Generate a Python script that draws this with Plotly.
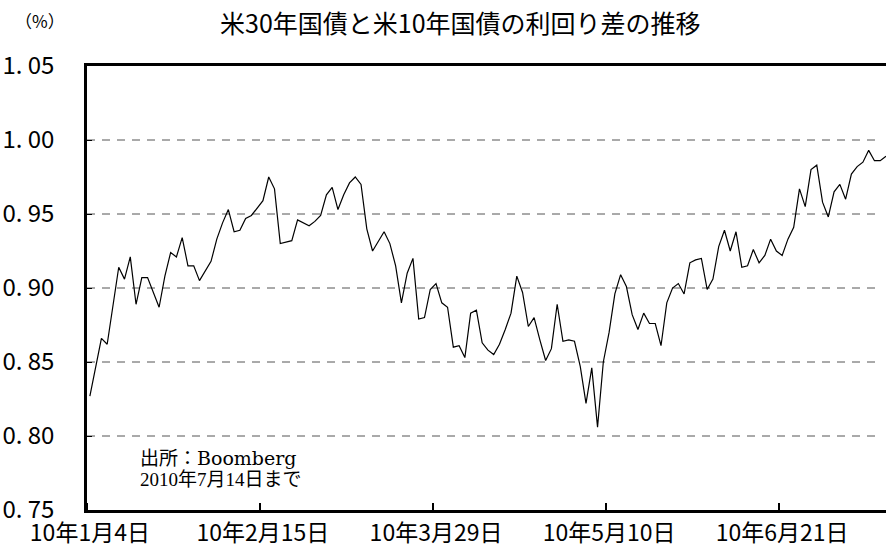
import pandas as pd
import plotly.graph_objects as go

# ---- data ----
spread = [
    0.827, 0.846, 0.866, 0.862, 0.887, 0.914, 0.906, 0.921, 0.889, 0.907,
    0.907, 0.897, 0.887, 0.908, 0.924, 0.921, 0.934, 0.915, 0.915, 0.905,
    0.912, 0.918, 0.933, 0.944, 0.953, 0.938, 0.939, 0.947, 0.949, 0.954,
    0.959, 0.975, 0.967, 0.930, 0.931, 0.932, 0.946, 0.944, 0.942, 0.945,
    0.949, 0.963, 0.968, 0.953, 0.963, 0.971, 0.975, 0.970, 0.940, 0.925,
    0.932, 0.938, 0.930, 0.915, 0.890, 0.910, 0.920, 0.879, 0.880, 0.899,
    0.903, 0.890, 0.887, 0.860, 0.861, 0.853, 0.883, 0.885, 0.863, 0.858,
    0.855, 0.862, 0.872, 0.883, 0.908, 0.897, 0.874, 0.880, 0.865, 0.851,
    0.859, 0.889, 0.864, 0.865, 0.864, 0.847, 0.822, 0.846, 0.806, 0.850,
    0.870, 0.896, 0.909, 0.901, 0.882, 0.872, 0.883, 0.876, 0.876, 0.861,
    0.890, 0.900, 0.903, 0.896, 0.917, 0.919, 0.920, 0.899, 0.906, 0.928,
    0.939, 0.925, 0.938, 0.914, 0.915, 0.926, 0.917, 0.922, 0.933, 0.925,
    0.922, 0.933, 0.941, 0.967, 0.955, 0.980, 0.983, 0.958, 0.948, 0.965,
    0.970, 0.960, 0.977, 0.982, 0.985, 0.993, 0.986, 0.986, 0.989,
]
dates = pd.bdate_range(start="2010-01-04", periods=len(spread))
x_index = list(range(len(spread)))

x_tick_positions = [0, 30, 60, 90, 120]
x_tick_labels = ["10年1月4日", "10年2月15日", "10年3月29日", "10年5月10日", "10年6月21日"]

y_tick_values = [0.75, 0.80, 0.85, 0.90, 0.95, 1.00, 1.05]
y_tick_labels = [f"{v:.2f}".replace(".", ". ") for v in y_tick_values]
y_grid_values = [0.80, 0.85, 0.90, 0.95, 1.00]

title_text = "米30年国債と米10年国債の利回り差の推移"
unit_text = "（%）"
source_line1 = "出所：Boomberg"
source_line2 = "2010年7月14日まで"

# ---- figure ----
fig = go.Figure()
fig.add_trace(go.Scatter(
    x=x_index, y=spread, mode="lines",
    line=dict(color="black", width=1.2),
    customdata=[d.strftime("%Y-%m-%d") for d in dates],
    hovertemplate="%{customdata}: %{y:.3f}<extra></extra>",
    showlegend=False,
))

# dashed gridlines
for g in y_grid_values:
    fig.add_shape(type="line", xref="paper", x0=0, x1=0.992, yref="y", y0=g, y1=g,
                  line=dict(color="#555555", width=1, dash="8px,7px"), layer="below")

jp = "Noto Sans CJK JP"
fig.update_layout(
    width=886, height=551,
    margin=dict(l=87, r=0, t=66, b=41),
    paper_bgcolor="white", plot_bgcolor="white",
    xaxis=dict(
        range=[-0.5, 138.0], automargin=False,
        tickmode="array", tickvals=x_tick_positions, ticktext=x_tick_labels,
        ticks="", showgrid=False, zeroline=False,
        showline=True, linecolor="black", linewidth=3, mirror=True,
        tickfont=dict(family=jp, size=23, color="black"),
        minor=dict(tickmode="linear", tick0=-0.5, dtick=30, ticks="inside",
                   ticklen=7, tickcolor="black", tickwidth=1.5, showgrid=False),
    ),
    yaxis=dict(
        range=[0.75, 1.05], automargin=False,
        tickmode="array", tickvals=y_tick_values, ticktext=y_tick_labels,
        ticks="inside", ticklen=5, tickcolor="black",
        showgrid=False, zeroline=False,
        showline=True, linecolor="black", linewidth=2.5,
        tickfont=dict(family=jp, size=24, color="black"),
        ticklabelstandoff=25,
    ),
)

fig.add_annotation(text=title_text, xref="paper", yref="paper", x=0.467, y=1.0,
                   xanchor="center", yanchor="middle", yshift=44, showarrow=False,
                   font=dict(family=jp, size=25, color="black"))
fig.add_annotation(text=unit_text, xref="paper", yref="paper", x=-0.092, y=1.0,
                   xanchor="left", yanchor="middle", yshift=46, showarrow=False,
                   font=dict(family=jp, size=17, color="black"))
fig.add_annotation(text=source_line1, xref="paper", yref="paper",
                   x=0.064, y=0.0, xanchor="left", yanchor="middle", yshift=52,
                   showarrow=False,
                   font=dict(family="DejaVu Serif, Noto Sans CJK JP", size=19, color="black"))
fig.add_annotation(text=source_line2, xref="paper", yref="paper",
                   x=0.064, y=0.0, xanchor="left", yanchor="middle", yshift=31,
                   showarrow=False,
                   font=dict(family="Liberation Serif, Noto Sans CJK JP", size=19, color="black"))

# remove the page's default body margin so the figure sits at the window origin
fig.write_html("out.html", config={"displayModeBar": False},
               post_script="document.body.style.margin='0';")
